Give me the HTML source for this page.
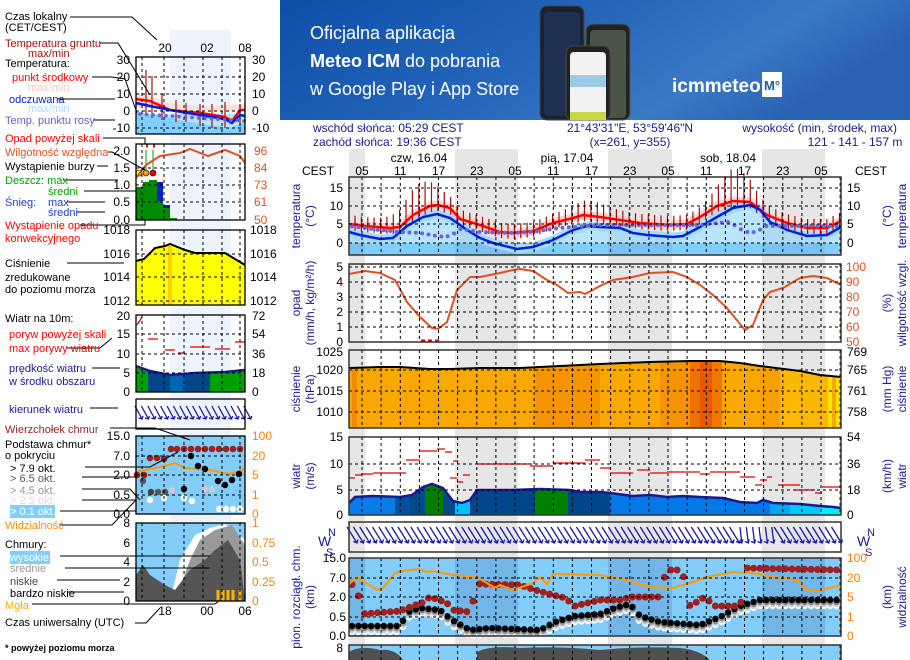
<!DOCTYPE html>
<html><head><meta charset="utf-8">
<style>
html,body{margin:0;padding:0;background:#fff;width:910px;height:660px;overflow:hidden}
svg{display:block}
text{font-family:"Liberation Sans",Arial,sans-serif;font-size:12px}
</style></head><body>
<svg id="s" width="910" height="660" viewBox="0 0 910 660" xmlns="http://www.w3.org/2000/svg">
<defs>
<linearGradient id="bn" x1="0" y1="0" x2="1" y2="0.3">
<stop offset="0" stop-color="#0d4fa8"/><stop offset="0.5" stop-color="#2566bb"/><stop offset="0.8" stop-color="#3a7ac4"/><stop offset="1" stop-color="#2a62b3"/></linearGradient>
</defs>
<rect x="280" y="0" width="630" height="120" fill="url(#bn)"/>
<text x="310" y="39" fill="#fff" style="font-size:18px">Oficjalna aplikacja</text>
<text x="310" y="67" fill="#fff" style="font-size:18px"><tspan font-weight="bold">Meteo ICM</tspan> do pobrania</text>
<text x="310" y="95" fill="#fff" style="font-size:18px">w Google Play i App Store</text>
<rect x="540" y="6" width="44" height="114" rx="7" fill="#1a2230" stroke="#444"/>
<rect x="544" y="12" width="36" height="104" rx="4" fill="#1d3050"/>
<rect x="586" y="24" width="44" height="96" rx="7" fill="#222" stroke="#555"/>
<rect x="590" y="30" width="36" height="88" rx="4" fill="#4a5548"/>
<rect x="566" y="46" width="44" height="74" rx="7" fill="#222" stroke="#444"/>
<rect x="570" y="52" width="36" height="68" rx="4" fill="#f2f2f2"/>
<rect x="570" y="75" width="36" height="12" fill="#9ccbe8"/>
<rect x="570" y="112" width="36" height="8" fill="#c8d840"/>
<text x="672" y="92" fill="#fff" font-weight="bold" style="font-size:19px">icmmeteo</text>
<rect x="762" y="72" width="20" height="25" fill="#fff"/>
<text x="764" y="90" fill="#1f5aa8" font-weight="bold" style="font-size:13px">M°</text>
<g id="g"></g>
</svg>
<script>
var G=document.getElementById('g'),H='';
function add(s){H+=s;}
function P(a){var s='';for(var i=0;i<a.length;i++)s+=(i?'L':'M')+a[i][0]+' '+a[i][1];return s;}
function ip(a,x){if(x<=a[0][0])return a[0][1];for(var i=1;i<a.length;i++){if(x<=a[i][0]){var t=(x-a[i-1][0])/(a[i][0]-a[i-1][0]);return a[i-1][1]+t*(a[i][1]-a[i-1][1]);}}return a[a.length-1][1];}
function T(x,y,t,o){o=o||{};add('<text x="'+x+'" y="'+y+'"'+(o.c?' fill="'+o.c+'"':'')+(o.a?' text-anchor="'+o.a+'"':'')+(o.s?' style="font-size:'+o.s+'px"':'')+(o.w?' font-weight="bold"':'')+(o.tr?' transform="'+o.tr+'"':'')+'>'+t+'</text>');}
function LB(arr,x,c,anch){arr.forEach(function(a){T(x,a[1]+4,a[0],{c:c,a:anch});});}
var nights=[[349,365],[455,518],[608,672],[762,825]];
nights.forEach(function(n){add('<rect x="'+n[0]+'" y="149" width="'+(n[1]-n[0])+'" height="511" fill="#e6e6e6"/>');});
T(313,132,'wschód słońca: 05:29 CEST',{c:'#1a1a8c'});
T(313,146,'zachód słońca: 19:36 CEST',{c:'#1a1a8c'});
T(630,132,'21°43\'31"E, 53°59\'46"N',{c:'#1a1a8c',a:'middle'});
T(630,146,'(x=261,  y=355)',{c:'#1a1a8c',a:'middle'});
T(897,132,'wysokość (min, środek, max)',{c:'#1a1a8c',a:'end'});
T(855,146,'121 - 141 - 157 m',{c:'#1a1a8c',a:'middle'});
T(419,162,'czw, 16.04',{a:'middle'});T(567,162,'pią, 17.04',{a:'middle'});T(728,162,'sob, 18.04',{a:'middle'});
T(302,175,'CEST');T(855,175,'CEST');
var hl=['05','11','17','23'];
for(var k=0;k<13;k++){T(362+k*38.25,175,hl[k%4],{a:'middle'});}
var panels=[[177,255],[264,342],[350,428],[437,515],[522,552],[558,636],[645,668]];
add('<rect x="349" y="243" width="492" height="12" fill="#80d0ff"/>');
nights.forEach(function(n){add('<rect x="'+n[0]+'" y="243" width="'+(n[1]-n[0])+'" height="12" fill="#70b4e6"/>');});
var red=[[349,224],[365,226],[390,228],[400,227],[413,215],[430,206],[438,205],[450,208],[460,219],[480,225],[500,232],[513,233],[533,231],[553,223],[573,218],[583,215],[600,217],[620,220],[640,223],[670,225],[687,224],[700,217],[717,206],[733,201],[750,202],[767,215],[787,223],[807,228],[827,228],[841,221]];
var blue=[[349,232],[360,235],[380,239],[393,238],[407,226],[423,217],[437,214],[450,218],[467,230],[480,238],[493,243],[517,249],[533,247],[553,240],[573,230],[587,226],[600,227],[620,228],[633,233],[647,235],[673,237],[683,236],[700,227],[717,217],[733,208],[750,205],[760,210],[770,222],[787,230],[807,236],[827,235],[841,227]];
var blueArea=blue.map(function(p){return [p[0],p[1]+4];});
add('<path d="'+P(blueArea)+'L841 255L349 255Z" fill="#80d0ff" opacity="0.55"/>');
add('<path d="'+P(red)+'" stroke="#ffd4cc" stroke-width="9" fill="none" stroke-linejoin="round"/>');
add('<path d="'+P(blue)+'" stroke="#a8dcff" stroke-width="9" fill="none" stroke-linejoin="round"/>');
var tk='';
for(var x=355;x<840;x+=6.375){var ry=ip(red,x);var ext=9+19*Math.exp(-Math.pow((x-420)/22,2))+6*Math.exp(-Math.pow((x-590)/22,2))+24*Math.exp(-Math.pow((x-735)/20,2));tk+='M'+x.toFixed(1)+' '+(ry-ext).toFixed(1)+'V'+(ry+6).toFixed(1);}
add('<path d="'+tk+'" stroke="#a01010" stroke-width="1.2"/>');
add('<path d="'+P(red)+'" stroke="#ff0000" stroke-width="2.5" fill="none"/>');
add('<path d="'+P(blue)+'" stroke="#0020e0" stroke-width="2.5" fill="none"/>');
var dew=[[349,226],[380,230],[400,232],[420,233],[437,236],[445,237],[452,235],[460,229],[480,232],[510,233],[530,232],[560,228],[600,225],[700,225],[717,223],[730,222],[740,229],[750,233],[758,231],[765,226],[841,226]];
for(var x=352;x<840;x+=6.375){add('<circle cx="'+x.toFixed(1)+'" cy="'+ip(dew,x).toFixed(1)+'" r="2" fill="#6464dc"/>');}
var rh=[[349,274],[365,271],[380,273],[395,280],[407,302],[420,317],[432,328],[438,329],[447,322],[457,290],[470,277],[480,277],[500,273],[513,270],[520,269],[533,271],[547,280],[557,285],[568,293],[580,292],[585,294],[600,286],[613,280],[633,277],[650,273],[673,272],[687,277],[700,285],[713,295],[727,308],[745,330],[753,325],[763,300],[770,292],[783,288],[800,278],[813,276],[827,278],[841,285]];
add('<path d="'+P(rh)+'" stroke="#e05020" stroke-width="2" fill="none"/>');
add('<path d="M421 341h4M428 341h4M435 341h4" stroke="#e00000" stroke-width="3"/>');
var pr=[[349,368],[380,367],[400,367],[430,369],[450,369],[480,368],[520,368],[560,366],[600,364],[650,362],[690,361],[720,361],[740,363],[760,366],[800,371],[820,375],[841,377]];
add('<path d="'+P(pr)+'L841 428L349 428Z" fill="#f8a800"/>');
var bands=[[352,357,'#f08a00'],[535,600,'#f49400'],[660,690,'#f49400'],[690,700,'#f07000'],[700,712,'#e85a00'],[712,722,'#f07800'],[760,780,'#f8a000'],[780,828,'#fcb800'],[828,832,'#ffe000'],[836,841,'#ffe000']];
bands.forEach(function(b){add('<path d="M'+b[0]+' '+ip(pr,b[0])+'L'+b[1]+' '+ip(pr,b[1])+'L'+b[1]+' 428L'+b[0]+' 428Z" fill="'+b[2]+'"/>');});
add('<path d="'+P(pr)+'" stroke="#000" stroke-width="2" fill="none"/>');
var wd=[[349,503],[355,497],[373,496],[400,497],[412,495],[423,487],[432,484],[443,488],[453,501],[462,503],[470,500],[477,490],[513,490],[540,489],[570,490],[580,492],[600,492],[610,493],[633,496],[650,495],[667,497],[683,496],[700,497],[723,498],[740,502],[757,503],[763,500],[773,503],[800,504],[820,506],[833,507],[841,508]];
var wb=[[349,395,'#0a7ce8'],[395,410,'#0050a0'],[410,425,'#004a8c'],[425,443,'#008000'],[443,455,'#004a8c'],[455,470,'#00c0ff'],[470,535,'#00478a'],[535,568,'#008000'],[568,610,'#00478a'],[610,770,'#0078e8'],[770,790,'#00a8f0'],[790,820,'#00c8f8'],[820,841,'#00f0f8']];
wb.forEach(function(b){var pts=[];for(var x=b[0];x<=b[1];x+=2)pts.push([x,ip(wd,x)]);pts.push([b[1],ip(wd,b[1])]);add('<path d="'+P(pts)+'L'+b[1]+' 515L'+b[0]+' 515Z" fill="'+b[2]+'"/>');});
add('<path d="'+P(wd)+'" stroke="#1a1a90" stroke-width="2.5" fill="none"/>');
var gu=[[349,355,478],[355,362,475],[362,373,474],[373,406,473],[406,420,460],[420,437,451],[437,445,449],[445,452,452],[453,458,461],[450,457,478],[457,463,482],[463,470,475],[477,530,464],[530,553,466],[553,585,463],[585,600,460],[600,610,468],[610,633,473],[637,650,470],[650,667,473],[667,700,472],[700,710,474],[710,740,472],[740,755,477],[755,762,485],[760,767,480],[767,772,477],[778,800,485],[795,815,490],[815,822,493],[822,841,487]];
var gs='';gu.forEach(function(g){gs+='M'+g[0]+' '+g[2]+'H'+g[1];});
add('<path d="'+gs+'" stroke="#e00000" stroke-width="1.3"/>');
var ar='';
for(var x=352;x<840;x+=6.375){var dx=(x>735&&x<775)?1:5;var x1=x-dx,y1=527,x2=x+dx,y2=543;ar+='M'+x1.toFixed(1)+' '+y1+'L'+x2.toFixed(1)+' '+y2+'M'+(x2-3.5).toFixed(1)+' '+(y2-1.5)+'L'+x2.toFixed(1)+' '+y2+'L'+(x2+1).toFixed(1)+' '+(y2-3.5);}
add('<path d="'+ar+'" stroke="#1a1aa0" stroke-width="1.3" fill="none"/>');
add('<rect x="349" y="558" width="492" height="78" fill="#82cdfa"/>');
nights.forEach(function(n){add('<rect x="'+n[0]+'" y="558" width="'+(n[1]-n[0])+'" height="78" fill="#72b6e8"/>');});
var vis=[[349,584],[357,577],[377,590],[383,588],[395,573],[403,571],[418,569],[427,572],[433,571],[453,575],[477,577],[495,588],[500,585],[513,590],[533,583],[540,577],[547,584],[553,574],[600,575],[627,580],[650,587],[673,588],[693,582],[707,577],[733,572],[753,573],[773,577],[797,580],[807,590],[823,590],[841,585]];
var mr=[[349,582],[357,589],[362,614],[400,611],[418,604],[425,602],[432,594],[437,602],[445,600],[452,610],[470,612],[478,584],[520,585],[535,590],[553,595],[565,598],[575,606],[600,600],[620,600],[630,597],[660,597],[666,570],[682,570],[690,606],[700,600],[706,596],[712,606],[735,606],[740,608],[746,568],[841,570]];
var bk=[[349,626],[400,626],[408,612],[420,608],[440,610],[452,620],[470,630],[490,628],[540,630],[555,622],[575,616],[600,614],[615,608],[630,604],[640,616],[660,622],[700,625],[720,617],[740,606],[760,600],[841,600]];
var ds='';
for(var x=352;x<840;x+=6.375){var bb=ip(bk,x);var xs=x.toFixed(1);
ds+='<circle cx="'+xs+'" cy="'+(bb+6)+'" r="3.2" fill="#fff"/><circle cx="'+xs+'" cy="'+(bb+4)+'" r="3.2" fill="#ccc"/><circle cx="'+xs+'" cy="'+(bb+2)+'" r="3.2" fill="#888"/><circle cx="'+xs+'" cy="'+bb+'" r="3.2" fill="#000"/>';
ds+='<circle cx="'+xs+'" cy="'+ip(mr,x).toFixed(1)+'" r="3.5" fill="#a02020"/>';}
add(ds);
add('<path d="'+P(vis)+'" stroke="#ff9900" stroke-width="2" fill="none"/>');
add('<rect x="349" y="645" width="492" height="20" fill="#82cdfa"/>');
add('<path d="M349 665V652Q360 645 380 650Q395 648 403 660L403 665ZM477 665V652Q490 645 520 648Q560 646 600 650Q640 646 680 648Q700 650 710 660V665Z" fill="#505050"/>');
var gr='';
panels.forEach(function(p,i){if(i==4)return;for(var x=362;x<841;x+=19.125)gr+='M'+x.toFixed(1)+' '+p[0]+'V'+Math.min(p[1],660);});
[[188,206,224,243],[267,282,297,312,327],[370,391,412],[464,490],[578,597,617]].forEach(function(a){a.forEach(function(y){gr+='M349 '+y+'H841';});});
add('<path d="'+gr+'" stroke="#000" stroke-width="1" stroke-dasharray="3,3" fill="none"/>');
panels.forEach(function(p){add('<rect x="349" y="'+p[0]+'" width="492" height="'+(p[1]-p[0])+'" fill="none" stroke="#333" stroke-width="1.5"/>');});
LB([['15',188],['10',206],['5',224],['0',243]],343,'#000','end');
LB([['15',188],['10',206],['5',224],['0',243]],847,'#000','start');
LB([['5',267],['4',282],['3',297],['2',312],['1',327],['0',342]],343,'#000','end');
LB([['100',267],['90',282],['80',297],['70',312],['60',327],['50',342]],846,'#e05020','start');
LB([['1025',352],['1020',370],['1015',391],['1010',412]],343,'#000','end');
LB([['769',352],['765',370],['761',391],['758',412]],847,'#000','start');
LB([['15',437],['10',464],['5',490],['0',515]],343,'#000','end');
LB([['54',437],['36',464],['18',490],['0',515]],847,'#000','start');
LB([['15.0',558],['7.0',578],['2.0',597],['0.5',617],['0.0',636]],346,'#000','end');
LB([['100',558],['20',578],['5',597],['1',617],['0',636]],847,'#ff8000','start');
LB([['8',648]],343,'#000','end');
function R(x,y,t,c){T(x,y,t,{c:c||'#1a1a8c',a:'middle',tr:'rotate(-90 '+x+' '+y+')'});}
R(300,216,'temperatura');R(314,216,'(°C)');
R(300,303,'opad');R(314,303,'(mm/h, kg/m²/h)');
R(300,389,'ciśnienie');R(314,389,'(hPa)');
R(300,476,'wiatr');R(314,476,'(m/s)');
R(300,597,'pion. rozciągł. chm.');R(314,597,'(km)');
R(891,216,'(°C)');R(906,216,'temperatura');
R(891,303,'(%)');R(906,303,'wilgotność wzgl.');
R(891,389,'(mm Hg)');R(906,389,'ciśnienie');
R(891,476,'(km/h)');R(906,476,'wiatr');
R(891,597,'(km)');R(906,597,'widzialność');
T(318,546,'W',{c:'#1a1a8c',s:14});T(328,536,'N',{c:'#1a1a8c',s:11});T(326,556,'S',{c:'#1a1a8c',s:11});
T(857,546,'W',{c:'#1a1a8c',s:14});T(867,536,'N',{c:'#1a1a8c',s:11});T(865,556,'S',{c:'#1a1a8c',s:11});
// left legend
add('<rect x="170" y="30" width="61" height="570" fill="#eef4ff"/>');
add('<path d="M136 112L160 116L200 124L230 128L245 122V134H136Z" fill="#80d0ff"/><path d="M136 114H245V134H136Z" fill="#80d0ff" opacity="0.5"/>');
add('<path d="M136 92L170 103L200 106L245 104V112L136 108Z" fill="#ffe0d8"/>');
add('<path d="M146 70V116M152 76V118M162 94V120M176 100V122M186 103V122M200 104V126M212 104V128M225 102V128M240 104V126" stroke="#a01010" stroke-width="1.2"/>');
add('<path d="M136 99L150 101L170 110L200 113L225 117L232 121L240 110L245 110" stroke="#f00" stroke-width="2.5" fill="none"/>');
add('<path d="M136 103L150 106L170 110L200 115L225 119L232 123L240 115L245 116" stroke="#0020e0" stroke-width="2.5" fill="none"/>');
for(var x=140;x<245;x+=6.5)add('<circle cx="'+x+'" cy="'+(114+(x-140)/15)+'" r="1.8" fill="#6464dc"/>');
add('<path d="M136 187H143V182H149V180H157V183H163V205H170V218H177V220H136Z" fill="#008a00"/><path d="M157 182H163V201H157ZM163 205H170V208H163Z" fill="#0020c0"/>');
add('<path d="M146 173V150M153 173V150" stroke="#00a000"/><path d="M146 146h2M153 146h2" stroke="#f00" stroke-width="3"/>');
add('<circle cx="139" cy="173" r="3" fill="#ff0" stroke="#000" stroke-width=".6"/><circle cx="146" cy="173" r="3" fill="#f90" stroke="#000" stroke-width=".6"/><circle cx="153" cy="173" r="3" fill="#e00" stroke="#000" stroke-width=".6"/>');
add('<path d="M136 178L146 165L160 156L180 153L190 149L208 156L225 150L240 156L245 163" stroke="#e05020" stroke-width="2" fill="none"/>');
add('<path d="M136 261L144 259L155 248L165 246L170 244L185 250L195 253L225 253L245 265V305H136Z" fill="#ffff00"/><rect x="168" y="246" width="4" height="59" fill="#ffd000"/>');
add('<path d="M136 261L144 259L155 248L165 246L170 244L185 250L195 253L225 253L245 265" stroke="#000" stroke-width="2" fill="none"/>');
add('<path d="M136 366L150 371L170 375L195 373L225 372L245 370V392H136Z" fill="#00a000"/><path d="M148 370L170 375L195 373L210 372V392H148Z" fill="#00478a"/><path d="M170 375L185 374V392H170Z" fill="#0064b4"/>');
add('<path d="M136 366L150 371L170 375L195 373L225 372L245 370" stroke="#1a1a90" stroke-width="2.5" fill="none"/>');
add('<path d="M137 325L142 317M148 339H158M165 350H175M178 353H185M190 347H210M215 349H230M235 342H245" stroke="#e00000" stroke-width="1.3"/>');
var am='';for(var x=139;x<250;x+=6.4)am+='M'+(x-4)+' 406L'+(x+3)+' 419M'+(x-0.5)+' 418L'+(x+3)+' 419L'+(x+4)+' 416';
add('<path d="'+am+'" stroke="#1a1aa0" stroke-width="1.3" fill="none"/>');
add('<rect x="136" y="436" width="109" height="78" fill="#82cdfa"/>');
add('<path d="M136 472L165 466L175 463L185 468L210 470L230 474L245 469" stroke="#ff9900" stroke-width="2" fill="none"/>');
var cm='';[[137,475],[144,475],[150,458],[157,458],[164,459],[171,449],[177,449],[184,449],[191,449],[198,449],[205,449],[212,449],[219,449],[226,449],[233,449],[240,449]].forEach(function(p){cm+='<circle cx="'+p[0]+'" cy="'+p[1]+'" r="3.3" fill="#a02020"/>';});
[[151,492,'#444'],[158,492,'#555'],[165,492,'#555'],[172,490,'#ccc'],[184,489,'#000'],[191,456,'#000'],[198,466,'#000'],[205,469,'#000'],[218,481,'#000'],[225,485,'#000'],[232,480,'#000'],[239,474,'#000'],[143,481,'#555'],[150,500,'#fff'],[164,498,'#fff'],[192,501,'#fff'],[219,509,'#fff'],[226,509,'#fff'],[233,509,'#fff'],[240,509,'#fff'],[184,498,'#fff'],[205,489,'#ccc'],[212,489,'#ccc']].forEach(function(p){cm+='<circle cx="'+p[0]+'" cy="'+p[1]+'" r="3.2" fill="'+p[2]+'"/>';});
add(cm);
add('<rect x="136" y="523" width="109" height="78" fill="#82cdfa"/>');
add('<path d="M170 601L180 560L195 535L210 528L225 524L245 540V601Z" fill="#fff"/><path d="M175 601L190 560L200 540L215 530L232 525L245 545V601Z" fill="#999"/>');
add('<path d="M136 601V575L143 565L150 575L165 585L175 590L190 570L205 560L215 550L228 540L240 560L245 600V601Z" fill="#555"/>');
add('<path d="M218 601V590M223 601V590M228 601V590M233 601V590M240 601V590" stroke="#ffb000" stroke-width="3"/>');
var mb=[[57,134],[144,220],[230,305],[315,392],[399,429],[436,514],[523,601]];
var mg='';mb.forEach(function(p,i){if(i==4)return;[142,164,184,203,222,240].forEach(function(x){mg+='M'+x+' '+p[0]+'V'+p[1];});});
[[77,94,111,128],[168,185,202],[254,277,301],[334,354,373],[456,475,495]].forEach(function(a){a.forEach(function(y){mg+='M136 '+y+'H245';});});
add('<path d="'+mg+'" stroke="#000" stroke-dasharray="3,3" fill="none"/>');
mb.forEach(function(p){add('<rect x="136" y="'+p[0]+'" width="109" height="'+(p[1]-p[0])+'" fill="none" stroke="#000" stroke-width="1.3"/>');});
LB([['30',60],['20',77],['10',94],['0',111],['-10',128]],130,'#000','end');
LB([['30',60],['20',77],['10',94],['0',111],['-10',128]],252,'#000','start');
LB([['2.0',151],['1.5',168],['1.0',185],['0.5',202],['0.0',220]],130,'#000','end');
LB([['96',151],['84',168],['73',185],['61',202],['50',220]],254,'#e05020','start');
LB([['1018',230],['1016',254],['1014',277],['1012',301]],130,'#000','end');
LB([['1018',230],['1016',254],['1014',277],['1012',301]],250,'#000','start');
LB([['20',316],['15',334],['10',354],['5',373],['0',392]],130,'#000','end');
LB([['72',316],['54',334],['36',354],['18',373],['0',392]],252,'#000','start');
LB([['15.0',436],['7.0',456],['2.0',475],['0.5',495],['0.0',514]],130,'#000','end');
LB([['100',436],['20',456],['5',475],['1',495],['0',514]],252,'#ff8000','start');
LB([['8',523],['6',543],['4',562],['2',582],['0',601]],130,'#000','end');
LB([['1',523],['0.75',543],['0.5',562],['0.25',582],['0',601]],252,'#ff8000','start');
T(165,52,'20',{a:'middle'});T(207,52,'02',{a:'middle'});T(245,52,'08',{a:'middle'});
T(165,615,'18',{a:'middle'});T(207,615,'00',{a:'middle'});T(245,615,'06',{a:'middle'});
var lt=[[5,20,'Czas lokalny','#000'],[5,31,'(CET/CEST)','#000'],[5,47,'Temperatura gruntu','#a01010'],[5,67,'Temperatura:','#000'],[12,81,'punkt środkowy','#f00'],[9,103,'odczuwana','#0020e0'],[5,124,'Temp. punktu rosy','#6a5acd'],[5,142,'Opad powyżej skali','#f00'],[5,156,'Wilgotność względna','#e05020'],[5,170,'Wystąpienie burzy','#000'],[5,184,'Deszcz: max','#00a000'],[48,195,'średni','#00a000'],[5,206,'Śnieg:','#2040c0'],[48,206,'max','#2040c0'],[48,216,'średni','#2040c0'],[5,229,'Wystąpienie opadu','#f00'],[5,242,'konwekcyjnego','#f00'],[5,267,'Ciśnienie','#000'],[5,281,'zredukowane','#000'],[5,293,'do poziomu morza','#000'],[5,322,'Wiatr na 10m:','#000'],[9,338,'poryw powyżej skali','#f00'],[9,352,'max porywy wiatru','#f00'],[9,372,'prędkość wiatru','#1a1a90'],[9,385,'w środku obszaru','#1a1a90'],[9,413,'kierunek wiatru','#1a1a90'],[5,433,'Wierzchołek chmur','#a02020'],[5,448,'Podstawa chmur*','#000'],[5,459,'o pokryciu','#000'],[10,472,'&gt; 7.9 okt.','#000'],[10,482,'&gt; 6.5 okt.','#555'],[10,494,'&gt; 4.5 okt.','#999'],[10,504,'&gt; 2.5 okt.','#ddd'],[5,529,'Widzialność','#ff8c00'],[5,548,'Chmury:','#000'],[10,572,'średnie','#999'],[10,585,'niskie','#444'],[10,597,'bardzo niskie','#000'],[5,609,'Mgła','#f0b000'],[5,626,'Czas uniwersalny (UTC)','#000']];
add('<rect x="10" y="505" width="45" height="13" fill="#80d0ff"/><rect x="10" y="551" width="40" height="13" fill="#80d0ff"/>');
var ll='M70 17H132L157 40M100 43H118L150 95M92 77H112M112 77L125 79L137 113M57 99H115M93 120H115M103 138H145V144M108 152H112M112 152L145 170M97 166H108M63 180H118M84 191H136M67 202H105M77 212H105M80 225H145V220M67 263H124M67 348H100M100 348L112 338M92 368H120M90 408H118M110 428H155L190 440M85 467H150L178 452M82 477H136M82 489H130L140 500M82 500H136M60 511H136M60 525H112L136 500M60 556H210M65 568H210M57 580H120M68 592H124M32 604H215L220 600M135 623H146L160 608';
add('<path d="'+ll+'" stroke="#000" stroke-width="1" fill="none"/>');
lt.forEach(function(l){T(l[0],l[1],l[2],{c:l[3],s:11});});
T(28,57,'max/min',{c:'#a01010',s:11});T(28,91,'max/min',{c:'#ffc8c0',s:11});T(28,112,'max/min',{c:'#a8dcff',s:11});
T(10,515,'&gt; 0.1 okt.',{c:'#fff',s:11});T(10,561,'wysokie',{c:'#fff',s:11});
T(5,651,'* powyżej poziomu morza',{s:9,w:1});
G.innerHTML=H;
</script>
</body></html>
